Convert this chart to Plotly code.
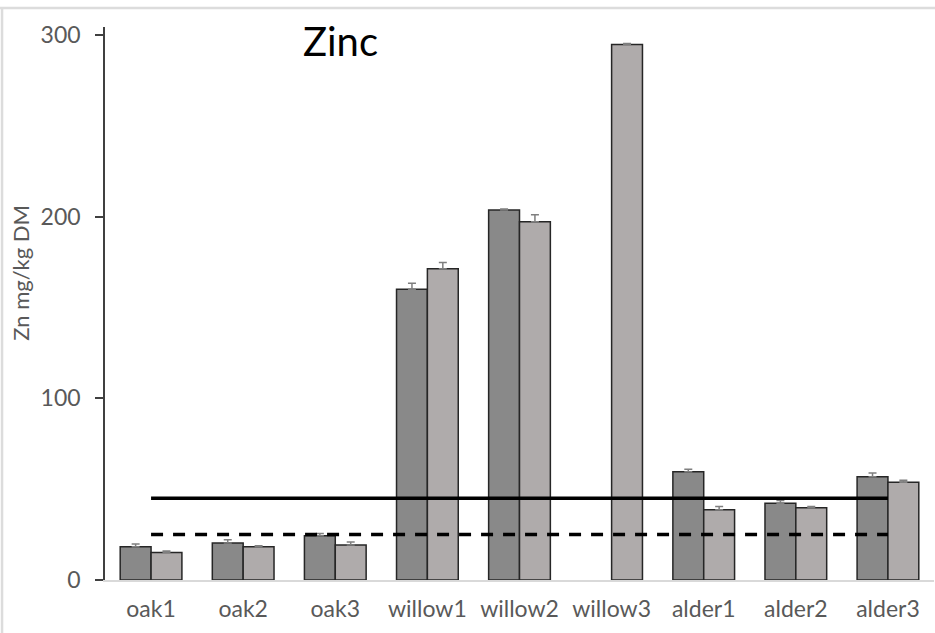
import plotly.graph_objects as go

# Zinc concentration per sampling site (mg/kg dry matter)
sites = ["oak1", "oak2", "oak3", "willow1", "willow2", "willow3",
         "alder1", "alder2", "alder3"]
series_a = [18.3, 20.4, 24.3, 160.0, 203.6, None, 59.6, 42.2, 56.9]
series_a_err = [1.5, 1.8, 1.3, 3.3, 0.6, 0.0, 1.3, 1.5, 2.0]
series_b = [15.2, 18.3, 19.3, 171.3, 197.2, 294.8, 38.7, 39.8, 53.8]
series_b_err = [0.7, 0.5, 1.6, 3.5, 3.8, 0.5, 1.8, 0.7, 1.1]

# Reference levels drawn across all sites
level_solid = 45
level_dashed = 25

y_ticks = [0, 100, 200, 300]

FONT = "Lato"
LABEL_GREY = "#595959"

fig = go.Figure()

err_style = dict(type="data", symmetric=False, color="#7f7f7f",
                 thickness=1.5, width=4)

fig.add_trace(go.Bar(
    x=sites, y=series_a, name="A",
    marker=dict(color="#898989", line=dict(color="#262626", width=1.5)),
    error_y=dict(array=series_a_err, arrayminus=[0] * len(sites), **err_style),
))
fig.add_trace(go.Bar(
    x=sites, y=series_b, name="B",
    marker=dict(color="#AFABAB", line=dict(color="#262626", width=1.5)),
    error_y=dict(array=series_b_err, arrayminus=[0] * len(sites), **err_style),
))

fig.add_trace(go.Scatter(
    x=sites, y=[level_solid] * len(sites), mode="lines",
    line=dict(color="black", width=3.5), hoverinfo="skip",
))
fig.add_trace(go.Scatter(
    x=sites, y=[level_dashed] * len(sites), mode="lines",
    line=dict(color="black", width=3.5, dash="12px,10px"), hoverinfo="skip",
))

fig.update_layout(
    width=935, height=633,
    margin=dict(l=105, r=1, t=27, b=53),
    paper_bgcolor="white", plot_bgcolor="white",
    showlegend=False,
    barmode="group", bargap=0.33, bargroupgap=0,
    font=dict(family=FONT, color=LABEL_GREY),
    xaxis=dict(
        showline=True, linecolor="#d9d9d9", linewidth=1.5,
        ticks="", tickfont=dict(size=23, color=LABEL_GREY),
        ticklabelstandoff=8,
        showgrid=False, zeroline=False,
    ),
    yaxis=dict(
        range=[0, 304.4], tickvals=y_ticks,
        showline=True, linecolor="#404040", linewidth=1.5,
        ticks="outside", ticklen=8, tickwidth=1.5, tickcolor="#404040",
        tickfont=dict(size=23, color=LABEL_GREY),
        ticklabelstandoff=10,
        showgrid=False, zeroline=False,
    ),
    annotations=[
        dict(text="Zinc", xref="paper", yref="paper", x=0.2835, y=0.975,
             showarrow=False, font=dict(size=40, color="black", family=FONT),
             xanchor="center", yanchor="middle"),
        dict(text="Zn mg/kg DM", xref="paper", yref="paper", x=-0.103, y=0.555,
             showarrow=False, textangle=-90,
             font=dict(size=22, color=LABEL_GREY, family=FONT),
             xanchor="center", yanchor="middle"),
    ],
    shapes=[
        dict(type="line", xref="paper", yref="paper",
             x0=-0.2, x1=1.1, y0=1.0344, y1=1.0344,
             line=dict(color="#dcdcdc", width=2.5)),
        dict(type="line", xref="paper", yref="paper",
             x0=-0.1242, x1=-0.1242, y0=-0.2, y1=1.0344,
             line=dict(color="#dcdcdc", width=2.5)),
    ],
)

fig.write_html("out.html")
